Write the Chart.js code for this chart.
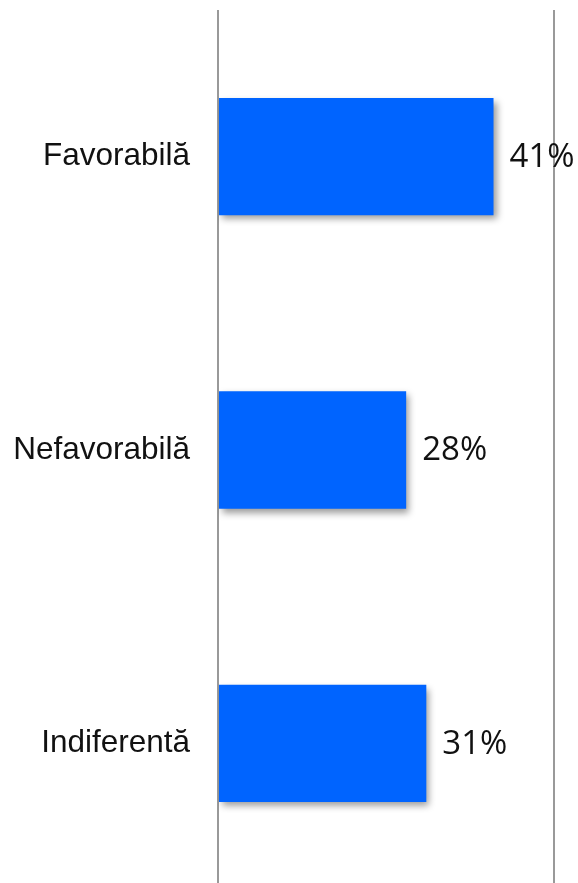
<!DOCTYPE html>
<html>
<head>
<meta charset="utf-8">
<script src="https://cdn.jsdelivr.net/npm/chart.js@4/dist/chart.umd.min.js"></script>
<style>
html,body{margin:0;padding:0;background:#fff;overflow:hidden;}
#wrap{position:relative;width:578px;height:890px;}
</style>
</head>
<body>
<div id="wrap"><canvas id="myChart"></canvas></div>
<script>
var categories=["Favorabilă","Nefavorabilă","Indiferentă"];
var values=[41,28,31];
var valueLabels=["41%","28%","31%"];
var axisMax=50;

// shadow under the bars + the percent text on the right
var barExtras={
    id:"barExtras",
    beforeDatasetsDraw:function(chart){
        var ctx=chart.ctx;
        ctx.save();
        ctx.shadowColor="rgba(0,0,0,0.4)";
        ctx.shadowBlur=7;
        ctx.shadowOffsetX=3;
        ctx.shadowOffsetY=4;
    },
    afterDatasetsDraw:function(chart){
        var ctx=chart.ctx;
        ctx.restore();
        var meta=chart.getDatasetMeta(0);
        ctx.save();
        ctx.font="33px 'Open Sans'";
        ctx.fillStyle="#111";
        ctx.textAlign="left";
        ctx.textBaseline="middle";
        meta.data.forEach(function(bar,i){
            ctx.fillText(valueLabels[i],bar.x+16,bar.y+1);
        });
        ctx.restore();
    }
};

var ctx=document.getElementById("myChart").getContext("2d");
var myChart=new Chart(ctx,{
    type:"bar",
    data:{
        labels:categories,
        datasets:[
            {
                data:values,
                backgroundColor:"#0064ff",
                borderWidth:0,
                barPercentage:0.4,
                categoryPercentage:1
            }
        ]
    },
    options:{
        indexAxis:"y",
        responsive:true,
        maintainAspectRatio:false,
        animation:false,
        layout:{padding:{top:10,right:24,bottom:0,left:0}},
        plugins:{legend:{display:false},tooltip:{enabled:false}},
        scales:{
            x:{
                min:0,
                max:axisMax,
                ticks:{display:false,stepSize:50},
                grid:{color:"#999",lineWidth:2,drawTicks:false},
                border:{display:false}
            },
            y:{
                grid:{display:false,drawTicks:false},
                border:{display:false},
                ticks:{
                    color:"#111",
                    padding:28,
                    font:{family:"'Liberation Sans', Arial",size:31.5}
                },
                afterFit:function(scale){
                    scale.width=218;
                    scale.paddingTop=0;
                    scale.paddingBottom=0;
                }
            }
        }
    },
    plugins:[barExtras]
});
</script>
</body>
</html>
